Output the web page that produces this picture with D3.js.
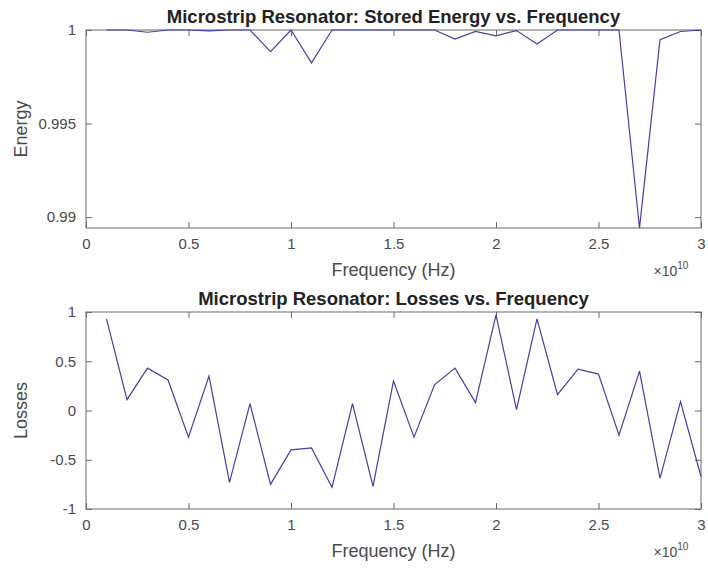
<!DOCTYPE html>
<html><head><meta charset="utf-8">
<script src="https://cdn.jsdelivr.net/npm/d3@7"></script>
<style>
body{margin:0;background:#fff;}
text{font-family:"Liberation Sans",Arial,sans-serif;}
</style></head>
<body><svg id="c" width="708" height="569"></svg>
<script>
// Frequency points (x 1e9 Hz)
const freqs = d3.range(1, 31).map(k => k * 1e9);
const energy = [1, 1, 0.99988, 1, 1, 0.99995, 1, 1, 0.99884, 1,
  0.99825, 1, 1, 1, 1, 1, 1, 0.99952, 0.99992, 0.99969,
  0.99997, 0.99925, 1, 1, 1, 1, 0.98942, 0.99948, 0.99992, 1];
const losses = [0.93, 0.11, 0.43, 0.31, -0.27, 0.35, -0.73, 0.07, -0.75, -0.40,
  -0.38, -0.78, 0.07, -0.77, 0.30, -0.27, 0.26, 0.43, 0.08, 0.97,
  0.01, 0.93, 0.16, 0.42, 0.37, -0.25, 0.40, -0.69, 0.09, -0.67];
const xTicks = [0, 0.5e10, 1e10, 1.5e10, 2e10, 2.5e10, 3e10];
const xTickLabels = ["0", "0.5", "1", "1.5", "2", "2.5", "3"];
const energyTicks = [0.99, 0.995, 1];
const energyTickLabels = ["0.99", "0.995", "1"];
const lossTicks = [-1, -0.5, 0, 0.5, 1];
const lossTickLabels = ["-1", "-0.5", "0", "0.5", "1"];

const svg = d3.select("#c");
const axisColor = "#6a6a6a";
const textColor = "#4a4a4a";
const lineColor = "#4040aa";
const L = 86, R = 701;

function panel(cfg) {
  const x = d3.scaleLinear().domain([0, 3e10]).range([L, R]);
  const y = d3.scaleLinear().domain(cfg.domain).range([cfg.bottom, cfg.top]);
  const g = svg.append("g");
  g.append("rect").attr("x", L).attr("y", cfg.top).attr("width", R - L).attr("height", cfg.bottom - cfg.top)
    .attr("fill", "#fff").attr("stroke", axisColor).attr("stroke-width", 1);
  const ax = g.append("g").attr("transform", `translate(0,${cfg.bottom})`)
    .call(d3.axisBottom(x).tickValues(xTicks).tickSize(-6).tickPadding(10)
      .tickFormat((d, i) => xTickLabels[i]));
  const axTop = g.append("g").attr("transform", `translate(0,${cfg.top})`)
    .call(d3.axisTop(x).tickValues(xTicks).tickSize(-6).tickFormat(""));
  const ay = g.append("g").attr("transform", `translate(${L},0)`)
    .call(d3.axisLeft(y).tickValues(cfg.ticks).tickSize(-6).tickPadding(10)
      .tickFormat((d, i) => cfg.tickLabels[i]));
  const ayR = g.append("g").attr("transform", `translate(${R},0)`)
    .call(d3.axisRight(y).tickValues(cfg.ticks).tickSize(-6).tickFormat(""));
  [ax, axTop, ay, ayR].forEach(a => {
    a.select(".domain").remove();
    a.selectAll(".tick line").attr("stroke", axisColor);
    a.selectAll(".tick text").attr("fill", textColor).style("font-size", "15px")
      .style("font-family", "'Liberation Sans',Arial,sans-serif");
  });
  const line = d3.line().x((d, i) => x(freqs[i])).y(d => y(d));
  g.append("path").datum(cfg.data).attr("d", line).attr("fill", "none")
    .attr("stroke", lineColor).attr("stroke-width", 1.2);
  g.append("text").attr("x", (L + R) / 2).attr("y", cfg.top - 7).attr("text-anchor", "middle")
    .attr("font-weight", "bold").attr("font-size", "18.5px").attr("fill", "#222").text(cfg.title);
  g.append("text").attr("x", (L + R) / 2).attr("y", cfg.bottom + 48).attr("text-anchor", "middle")
    .attr("font-size", "18px").attr("fill", textColor).text("Frequency (Hz)");
  const ex = g.append("text").attr("x", 671).attr("y", cfg.bottom + 48).attr("text-anchor", "middle")
    .attr("font-size", "14px").attr("fill", textColor);
  ex.append("tspan").text("\u00d710");
  ex.append("tspan").attr("dy", -7).attr("font-size", "10px").text("10");
  g.append("text").attr("transform", `translate(27,${(cfg.top + cfg.bottom) / 2}) rotate(-90)`)
    .attr("text-anchor", "middle").attr("font-size", "18px").attr("fill", textColor).text(cfg.ylabel);
}

panel({top: 30, bottom: 228, domain: [0.98942, 1], ticks: energyTicks, tickLabels: energyTickLabels,
  data: energy, title: "Microstrip Resonator: Stored Energy vs. Frequency", ylabel: "Energy"});
panel({top: 312, bottom: 509, domain: [-1, 1], ticks: lossTicks, tickLabels: lossTickLabels,
  data: losses, title: "Microstrip Resonator: Losses vs. Frequency", ylabel: "Losses"});
</script></body></html>
